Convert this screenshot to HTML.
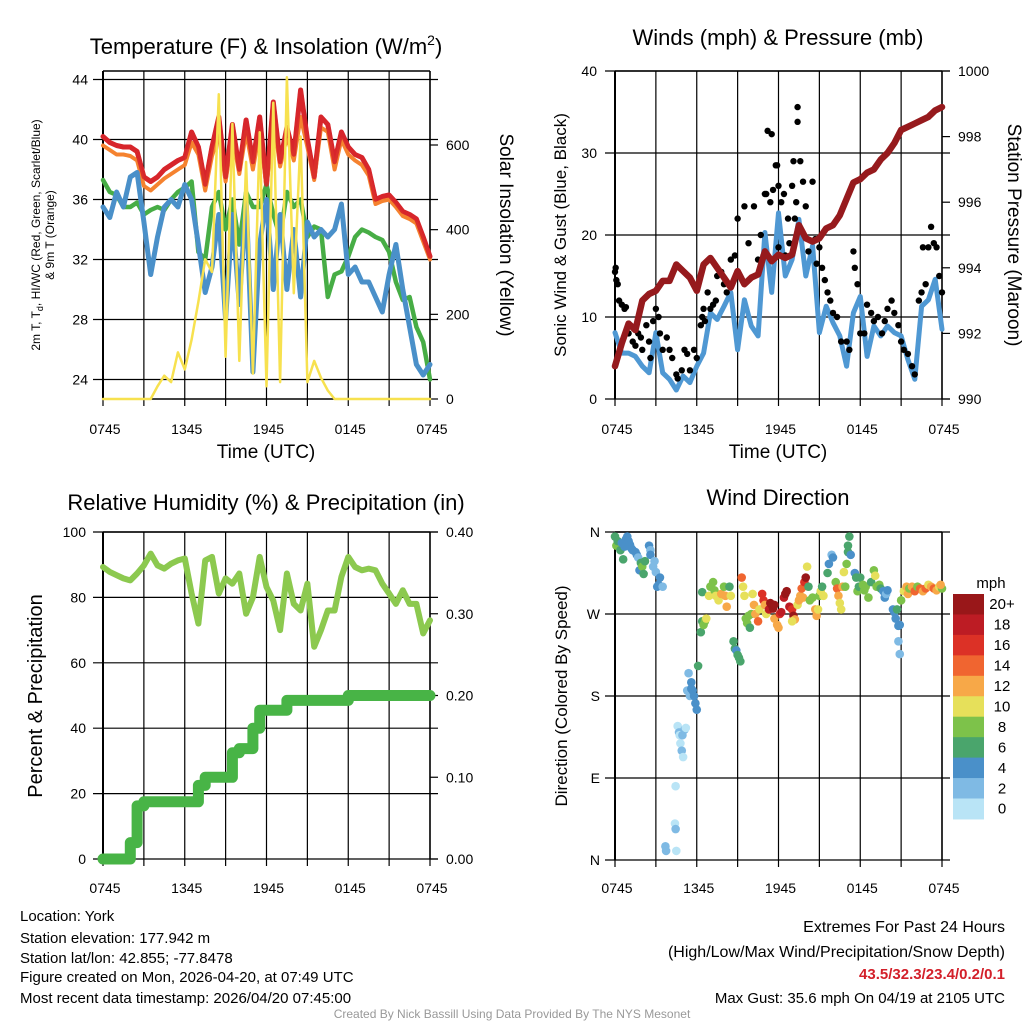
<!DOCTYPE html>
<html><head><meta charset="utf-8">
<style>
html,body{margin:0;padding:0;background:#fff;}
svg{display:block;font-family:"Liberation Sans",Arial,sans-serif;}
</style></head>
<body>
<svg id="c" width="1024" height="1024" viewBox="0 0 1024 1024" xmlns="http://www.w3.org/2000/svg">
<g id="g1"></g>
<g id="g2"></g>
<g id="g3"></g>
<g id="g4"></g>
<text x="266" y="54" font-size="22" text-anchor="middle">Temperature (F) &amp; Insolation (W/m<tspan font-size="14" dy="-9">2</tspan><tspan dy="9">)</tspan></text>
<text x="778" y="45" font-size="22" text-anchor="middle">Winds (mph) &amp; Pressure (mb)</text>
<text x="266" y="510" font-size="22" text-anchor="middle">Relative Humidity (%) &amp; Precipitation (in)</text>
<text x="778" y="505" font-size="22" text-anchor="middle">Wind Direction</text>
<text x="266" y="458" font-size="19" text-anchor="middle">Time (UTC)</text>
<text x="778" y="458" font-size="19" text-anchor="middle">Time (UTC)</text>
<text transform="translate(40,235) rotate(-90)" font-size="12" text-anchor="middle">2m T, T<tspan font-size="9" dy="3">d</tspan><tspan dy="-3">, HI/WC (Red, Green, Scarlet/Blue)</tspan></text>
<text transform="translate(54,235) rotate(-90)" font-size="12" text-anchor="middle">&amp; 9m T (Orange)</text>
<text transform="translate(500,235) rotate(90)" font-size="19" text-anchor="middle">Solar Insolation (Yellow)</text>
<text transform="translate(566,235) rotate(-90)" font-size="17" text-anchor="middle">Sonic Wind &amp; Gust (Blue, Black)</text>
<text transform="translate(1008,235) rotate(90)" font-size="19" text-anchor="middle">Station Pressure (Maroon)</text>
<text transform="translate(42,696) rotate(-90)" font-size="20" text-anchor="middle">Percent &amp; Precipitation</text>
<text transform="translate(567,696) rotate(-90)" font-size="17" text-anchor="middle">Direction (Colored By Speed)</text>
<text x="991" y="588" font-size="15" text-anchor="middle">mph</text>
<g font-size="15">
<text x="20" y="921">Location: York</text>
<text x="20" y="943">Station elevation: 177.942 m</text>
<text x="20" y="963">Station lat/lon: 42.855; -77.8478</text>
<text x="20" y="982">Figure created on Mon, 2026-04-20, at 07:49 UTC</text>
<text x="20" y="1003">Most recent data timestamp: 2026/04/20 07:45:00</text>
</g>
<g font-size="15" text-anchor="end">
<text x="1005" y="932" font-size="16">Extremes For Past 24 Hours</text>
<text x="1005" y="957" font-size="16">(High/Low/Max Wind/Precipitation/Snow Depth)</text>
<text x="1005" y="979" font-weight="bold" fill="#d3202a">43.5/32.3/23.4/0.2/0.1</text>
<text x="1005" y="1003">Max Gust: 35.6 mph On 04/19 at 2105 UTC</text>
</g>
<text x="512" y="1018" font-size="12" fill="#999" text-anchor="middle">Created By Nick Bassill Using Data Provided By The NYS Mesonet</text>
</svg>
<script>
// ---- data (half-hour samples, hours since 0745 UTC) ----
const xTickLabels = ["0745","1345","1945","0145","0745"];
const tempRed = [40.2,39.8,39.6,39.5,39.5,39.2,37.5,37.2,37.5,38.0,38.3,38.6,38.8,40.5,39.5,37.0,39.5,41.5,37.5,41.0,38.0,41.3,38.5,41.5,37.0,42.5,38.5,40.8,39.0,43.3,40.0,37.5,41.5,41.0,38.5,40.5,39.5,39.0,38.8,38.0,36.0,36.2,36.3,35.8,35.2,35.0,34.7,33.5,32.2];
const temp9m = [39.6,39.3,39.0,39.0,38.9,38.6,36.9,36.6,37.0,37.4,37.7,38.0,38.3,39.8,39.0,36.6,38.9,40.3,37.2,40.2,37.7,40.5,38.0,40.6,36.8,41.5,38.2,40.2,38.6,41.5,39.5,37.3,40.8,40.5,38.0,40.0,39.0,38.6,38.3,37.6,35.7,35.9,36.0,35.5,34.9,34.7,34.4,33.2,32.0];
const dewGreen = [37.3,36.5,36.3,35.5,35.5,35.8,35.0,35.3,35.5,35.3,36.0,36.5,36.8,37.2,32.5,32.0,35.5,36.5,34.0,36.0,33.0,36.5,35.5,35.5,37.0,35.0,33.5,36.5,35.5,36.0,33.5,34.2,34.0,29.5,31.0,31.2,32.2,33.5,34.0,33.8,33.5,33.3,32.5,30.5,29.3,29.5,27.5,26.5,24.0];
const chillBlue = [35.5,34.8,36.5,35.5,37.5,37.8,34.5,31.0,33.5,35.5,36.0,35.5,37.0,36.0,33.0,29.8,31.5,35.0,28.0,35.0,29.0,36.0,24.5,33.0,36.0,30.0,35.0,30.0,34.0,29.5,34.5,33.5,34.0,33.5,34.0,35.7,31.0,31.5,30.5,30.5,29.5,28.5,31.0,33.0,30.0,27.5,25.0,24.3,25.0];
const solar = [0,0,0,0,0,0,0,0,30,55,40,110,70,140,230,330,300,720,100,650,90,560,60,630,30,700,40,760,250,620,40,90,50,20,0,0,0,0,0,0,0,0,0,0,0,0,0,0,0];
const windBlue = [8.1,5.6,5.6,5.2,4.0,3.2,8.1,3.2,2.4,1.1,2.8,2.0,4.0,5.6,10.5,9.7,11.3,13.0,6.0,12.1,8.9,7.7,20.3,13.0,22.7,15.0,17.0,21.9,15.0,18.7,8.1,11.3,9.3,7.7,4.0,10.5,12.5,5.2,8.9,7.7,8.9,8.1,7.7,4.8,2.4,11.3,12.1,14.6,8.5];
const pressure = [991.0,991.7,992.3,992.1,993.0,993.2,993.3,993.6,993.6,994.1,993.9,993.7,993.3,994.1,994.3,994.0,993.7,993.4,993.9,993.5,993.7,993.8,994.5,994.2,994.4,994.3,994.4,995.3,994.9,994.8,994.9,995.2,995.3,995.6,996.1,996.6,996.7,996.9,997.0,997.3,997.5,997.8,998.2,998.3,998.4,998.5,998.6,998.8,998.9];
const gustHours = [0,0.05,0.1,0.2,0.3,0.5,0.7,0.8,1,1.3,1.5,1.7,1.9,2,2.3,2.5,2.6,2.8,3,3.2,3.3,3.5,3.8,4,4.2,4.5,4.6,4.9,5.1,5.3,5.5,5.8,6,6.3,6.4,6.5,6.6,6.8,7,7.2,7.4,7.5,7.8,8,8.2,8.5,8.8,9,9.5,9.8,10.2,10.5,10.7,10.9,11,11.1,11.2,11.4,11.5,11.6,11.8,11.9,12,12,12.2,12.4,12.5,12.7,12.8,13,13.1,13.2,13.3,13.4,13.4,13.6,13.8,14,14.2,14.5,14.7,14.8,15,15.2,15.4,15.6,15.8,16,16.3,16.6,17,17.2,17.5,17.6,17.8,18,18.3,18.5,18.8,19,19.3,19.6,19.8,20,20.3,20.5,20.8,21,21.2,21.5,21.8,22,22.3,22.5,22.6,22.8,23,23.2,23.4,23.6,23.8,24];
const gustMph = [15.5,16,14.5,14,12,11.5,11,11.2,8,7,6.5,8,7.5,6,9,7,5,9.5,11,10,8,6,7.5,6,5,3,2.5,3.5,6,5.5,3.5,6,5,9,10,11,9.5,13,11,11.5,12,15,15.5,14,13,17,17.5,22,23.5,19,23.5,17,20,17.5,25,25,32.7,24,32.3,25.5,28.5,28.5,26,18.5,24,25,17.5,22,19,26,29,22,24,35.6,33.8,29,26.5,23.5,18,26.5,19.5,16.5,18.5,16,14.5,13,12,10.5,10,7,7,6,18,16,14,8,8,11.5,10.5,9.5,10,8,9.5,11,12,10.5,9,7,6,5.5,4,3,12,13,18.5,14,18.5,21,19,18.5,15,13];
const rh = [89.3,87.8,86.8,85.8,85.2,87.3,89.8,93.4,89.8,88.8,90.3,91.3,91.9,81.2,72.0,91.3,92.4,81.2,85.8,84.2,87.3,75.0,80.0,92.4,83.2,79.0,70.0,87.3,78.0,76.0,84.2,64.9,70.0,76.0,76.0,86.3,92.4,89.3,88.3,88.8,88.3,84.2,81.2,78.0,82.2,78.0,78.0,69.0,73.0];
const precip = [0,0,0,0,0,0.02,0.065,0.07,0.07,0.07,0.07,0.07,0.07,0.07,0.07,0.09,0.1,0.1,0.1,0.1,0.13,0.135,0.135,0.16,0.182,0.182,0.182,0.182,0.194,0.194,0.194,0.194,0.194,0.194,0.194,0.194,0.194,0.2,0.2,0.2,0.2,0.2,0.2,0.2,0.2,0.2,0.2,0.2,0.2];
const dirHours = [0,0.1,0.2,0.4,0.5,0.6,0.7,0.8,0.9,1.0,1.1,1.2,1.3,1.5,1.6,1.7,1.8,1.9,2.0,2.1,2.2,2.5,2.6,2.6,2.8,2.9,3.0,3.1,3.2,3.3,3.5,3.7,3.75,4.4,4.45,4.5,4.45,4.6,4.7,4.75,4.8,4.9,4.95,5.1,5.2,5.0,5.3,5.4,5.5,5.6,5.7,5.8,5.9,6.0,5.6,6.1,6.3,6.4,6.5,6.6,6.4,6.7,6.9,7.0,7.2,7.3,7.4,7.6,7.8,8.0,8.1,8.2,8.4,8.5,8.7,8.8,8.9,9.0,9.1,9.2,9.3,9.4,9.5,9.6,9.7,9.8,9.9,10.0,10.1,10.2,10.3,10.5,10.6,10.8,10.9,11.0,11.1,11.3,11.4,11.5,11.6,11.7,11.7,11.9,12.0,12.1,12.2,12.4,12.5,12.6,12.8,13.0,13.1,13.2,13.0,13.4,13.5,13.6,13.7,13.8,13.9,14.0,14.1,14.2,14.3,14.5,14.7,14.8,14.9,15.0,15.1,15.2,15.3,15.6,15.7,15.9,16.0,16.2,16.3,16.4,16.5,16.6,16.7,16.8,16.9,17.0,17.1,17.1,17.2,17.3,17.6,17.7,17.8,17.9,18.0,18.2,18.3,18.4,18.6,18.8,19.0,19.1,19.2,19.4,19.5,19.7,19.8,19.9,20.0,20.4,20.5,20.6,20.7,20.8,20.9,20.8,20.9,21.0,21.2,21.4,21.5,21.6,21.8,22.0,22.2,22.4,22.6,22.8,23.0,23.2,23.4,23.6,23.8,24.0,23.9];
const dirDeg = [355,345,350,340,348,330,344,352,355,350,346,342,340,338,335,332,318,326,322,314,328,345,340,335,322,328,316,300,302,310,300,15,10,40,34,10,81,147,140,137,128,120,137,143,145,113,186,205,180,195,186,180,172,165,188,213,250,262,258,262,294,265,290,300,305,296,290,285,292,300,290,278,300,290,240,232,230,225,222,218,310,300,290,265,260,268,255,270,292,280,270,262,275,292,285,280,270,275,282,280,276,265,280,258,255,270,272,288,292,295,278,275,268,264,262,280,285,290,298,288,305,310,322,300,285,288,275,268,275,290,295,300,290,315,325,335,332,305,298,290,282,275,300,316,300,325,338,345,355,335,315,310,295,300,310,302,296,300,288,305,318,312,300,302,298,295,288,292,296,275,272,265,275,257,258,240,226,285,295,300,292,298,300,295,300,298,295,298,302,300,298,296,300,298,302];
const dirSpeed = [6,8,6,6,4,7,5,4,4,5,4,4,4,4,4,3,4,7,8,6,6,4,3,4,2,3,3,4,4,4,3,2,2,0,2,0,0,1,2,0,0,2,2,2,1,1,2,3,3,4,4,4,4,4,4,6,6,6,8,8,6,10,10,8,8,8,10,10,12,8,12,12,6,10,6,6,4,6,6,6,14,10,10,8,8,8,6,8,10,12,12,14,10,16,16,12,10,18,20,20,22,12,20,12,12,16,18,18,20,20,18,16,20,12,10,10,12,12,14,12,16,20,10,6,8,8,12,12,10,8,10,6,10,6,4,2,4,8,14,12,10,10,12,10,8,8,6,6,6,4,4,6,8,6,6,8,8,8,8,6,8,10,8,8,6,4,4,2,4,4,4,4,6,4,4,2,2,8,10,12,12,8,12,14,8,14,12,14,10,12,14,12,10,8,12];
const speedBins = ["0","2","4","6","8","10","12","14","16","18","20+"];
const speedColors = ["#b9e4f6","#7fbae4","#4a90c9","#4aa56c","#7dc24a","#e6e05a","#f7a848","#f06530","#dc3126","#bd1c24","#991719"];

const NS="http://www.w3.org/2000/svg";
function mk(parent,tag,attrs){const e=document.createElementNS(NS,tag);for(const k in attrs)e.setAttribute(k,attrs[k]);parent.appendChild(e);return e;}
const L=103,R=430,L2=615,R2=942;
function xs(left,right){return h=>left+h*(right-left)/24;}
function ysc(top,bot,vmin,vmax){return v=>bot-(v-vmin)/(vmax-vmin)*(bot-top);}
function grid(g,left,right,top,bot,yvals,ysf,labels,lx,xlabY){
  for(let i=0;i<=8;i++){const x=left+i*(right-left)/8;
    const ln=mk(g,'line',{x1:x,y1:top,x2:x,y2:bot+7,stroke:'#000','stroke-width':1.2});
    }
  for(let i=0;i<5;i++){const t=mk(g,'text',{x:left+i*(right-left)/4+2,y:xlabY,'font-size':14,'text-anchor':'middle'});t.textContent=xTickLabels[i];
    }
  yvals.forEach((v,i)=>{const y=ysf(v);const ln=mk(g,'line',{x1:left-10,y1:y,x2:right+8,y2:y,stroke:'#000','stroke-width':1.2});
    
    const t=mk(g,'text',{x:lx,y:y+5,'font-size':14,'text-anchor':'end'});t.textContent=labels[i];
    });
  mk(g,'line',{x1:left,y1:top,x2:right,y2:top,stroke:'#000','stroke-width':1.5});
  mk(g,'line',{x1:left,y1:top,x2:left,y2:bot,stroke:'#000','stroke-width':2});
  mk(g,'line',{x1:right,y1:top,x2:right,y2:bot,stroke:'#000','stroke-width':1.5});
}
function rightAxis(g,right,vals,ysf,labels,lx){
  vals.forEach((v,i)=>{const y=ysf(v);mk(g,'line',{x1:right,y1:y,x2:right+8,y2:y,stroke:'#000','stroke-width':1.2});
    const t=mk(g,'text',{x:lx,y:y+5,'font-size':14});t.textContent=labels[i];
    });
}
function poly(g,arr,xf,yf,color,w,name){
  const pts=arr.map((v,i)=>xf(i*0.5).toFixed(1)+','+yf(v).toFixed(1)).join(' ');
  const p=mk(g,'polyline',{points:pts,fill:'none',stroke:color,'stroke-width':w,'stroke-linejoin':'round','stroke-linecap':'round'});
  return p;
}
// Panel 1
(function(){const g=document.getElementById('g1');const X=xs(L,R);const Y=ysc(79.5,379.5,24,44);const YS=ysc(145,399,0,600);
 grid(g,L,R,71,399,[44,40,36,32,28,24],Y,["44","40","36","32","28","24"],88,434);
 mk(g,'line',{x1:L,y1:399,x2:R,y2:399,stroke:'#000','stroke-width':1.5});
 rightAxis(g,R,[600,400,200,0],YS,["600","400","200","0"],446);
 poly(g,tempRed,X,Y,'#d7262b',5,'temp-2m-line');
 poly(g,temp9m,X,Y,'#f5822f',4,'temp-9m-line');
 poly(g,dewGreen,X,Y,'#47ad45',4.5,'dewpoint-line');
 poly(g,chillBlue,X,Y,'#4a90c9',5,'windchill-line');
 poly(g,tempRed,X,Y,'#d7262b',4.5,'temp-2m-line-top').setAttribute('opacity','0.9');
 poly(g,solar,X,YS,'#f7e14f',2.5,'solar-line');
})();
// Panel 2
(function(){const g=document.getElementById('g2');const X=xs(L2,R2);const Y=ysc(71,399,0,40);const YP=ysc(71,399,990,1000);
 grid(g,L2,R2,71,399,[40,30,20,10,0],Y,["40","30","20","10","0"],597,434);
 rightAxis(g,R2,[1000,998,996,994,992,990],YP,["1000","998","996","994","992","990"],958);
 poly(g,windBlue,X,Y,'#4f98d3',5,'wind-speed-line');
 gustHours.forEach((h,i)=>{const c=mk(g,'circle',{cx:X(h),cy:Y(gustMph[i]),r:3.2,fill:'#000'});
   });
 poly(g,pressure,X,YP,'#961a1d',6.5,'pressure-line');
})();
// Panel 3
(function(){const g=document.getElementById('g3');const X=xs(L,R);const Y=ysc(532,859,0,100);const YP=ysc(532,859,0,0.4);
 grid(g,L,R,532,859,[100,80,60,40,20,0],Y,["100","80","60","40","20","0"],86,893);
 rightAxis(g,R,[0.4,0.3,0.2,0.1,0],YP,["0.40","0.30","0.20","0.10","0.00"],446);
 poly(g,rh,X,Y,'#8cc94f',6,'humidity-line');
 const pl=[];precip.forEach((v,i)=>{if(i>0)pl.push([X((i-1)*0.5),YP(v)]);pl.push([X(i*0.5),YP(v)]);});
 const p=mk(g,'polyline',{points:pl.map(q=>q[0].toFixed(1)+','+q[1].toFixed(1)).join(' '),fill:'none',stroke:'#48b446','stroke-width':11,'stroke-linecap':'round','stroke-linejoin':'round'});
 
})();
// Panel 4
(function(){const g=document.getElementById('g4');const X=xs(L2,R2);const Y=ysc(532,860,0,360);
 grid(g,L2,R2,532,860,[360,270,180,90,0],Y,["N","W","S","E","N"],600,893);
 dirHours.forEach((h,i)=>{const s=dirSpeed[i];const bi=Math.min(10,Math.floor(s/2));
   const c=mk(g,'circle',{cx:X(h),cy:Y(dirDeg[i]),r:4.3,fill:speedColors[bi]});
   });
 const top=594,bh=20.45;
 for(let i=0;i<11;i++){const k=10-i;const r=mk(g,'rect',{x:953,y:top+i*bh,width:31,height:bh+0.5,fill:speedColors[k]});
   
   const t=mk(g,'text',{x:1002,y:top+i*bh+bh/2+5,'font-size':15,'text-anchor':'middle'});t.textContent=speedBins[k];
   }
})();
</script>
</body></html>
